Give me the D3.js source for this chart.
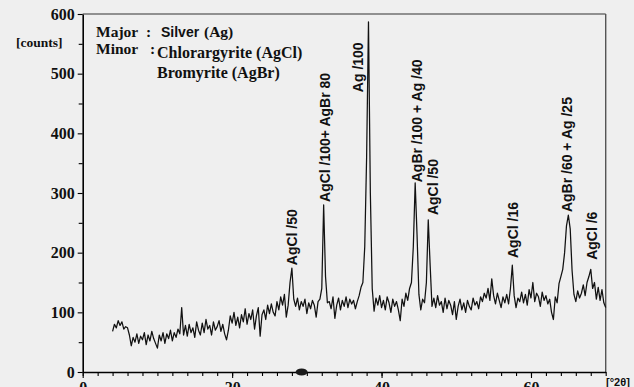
<!DOCTYPE html>
<html>
<head>
<meta charset="utf-8">
<script src="https://cdn.jsdelivr.net/npm/d3@7"></script>
<style>
  body { margin: 0; background: #efefef; }
  svg { display: block; }
</style>
</head>
<body>
<script>
// XRD pattern, 2theta from 4 to 70 deg, step 0.25
const startAngle = 4;
const stepAngle = 0.25;
const counts = [
  68, 80, 74, 86,      // 4
  78, 84, 72, 76,      // 5
  74, 62, 44, 58,      // 6
  50, 64, 48, 60,      // 7
  54, 66, 46, 62,      // 8
  52, 68, 56, 48,      // 9
  40, 62, 52, 66,      // 10
  48, 64, 56, 70,      // 11
  52, 66, 58, 72,      // 12
  64, 108, 62, 78,     // 13
  60, 80, 66, 74,      // 14
  58, 84, 70, 62,      // 15
  82, 66, 88, 72,      // 16
  78, 62, 84, 70,      // 17
  76, 86, 68, 80,      // 18
  64, 54, 70, 94,      // 19
  82, 100, 78, 92,     // 20
  74, 96, 84, 106,     // 21
  80, 98, 88, 104,     // 22
  72, 94, 108, 60,     // 23
  96, 104, 88, 112,    // 24
  98, 114, 100, 94,    // 25
  118, 104, 126, 112,  // 26
  130, 92, 112, 150,   // 27
  174, 122, 110, 124,  // 28
  104, 118, 110, 122,  // 29
  98, 116, 106, 120,   // 30
  112, 92, 118, 122,   // 31
  140, 280, 160, 116,  // 32
  118, 106, 126, 90,   // 33
  112, 124, 104, 120,  // 34
  110, 126, 108, 122,  // 35
  114, 120, 106, 118,  // 36
  128, 142, 150, 210,  // 37
  360, 587, 300, 140,  // 38
  102, 124, 112, 128,  // 39
  108, 120, 104, 126,  // 40
  116, 100, 122, 110,  // 41
  118, 104, 86, 122,   // 42
  110, 132, 120, 140,  // 43
  150, 210, 317, 230,  // 44
  130, 104, 122, 116,  // 45
  150, 255, 180, 110,  // 46
  124, 108, 128, 112,  // 47
  118, 100, 124, 106,  // 48
  120, 112, 96, 118,   // 49
  88, 110, 122, 104,   // 50
  116, 100, 120, 110,  // 51
  104, 124, 112, 118,  // 52
  106, 126, 118, 132,  // 53
  124, 140, 120, 156,  // 54
  128, 114, 132, 120,  // 55
  108, 126, 116, 130,  // 56
  114, 140, 179, 128,  // 57
  108, 124, 118, 134,  // 58
  116, 130, 112, 138,  // 59
  124, 150, 118, 132,  // 60
  126, 110, 134, 120,  // 61
  128, 114, 122, 100,  // 62
  88, 126, 116, 148,   // 63
  160, 172, 200, 245,  // 64
  263, 240, 170, 130,  // 65
  118, 136, 124, 132,  // 66
  146, 128, 150, 160,  // 67
  172, 140, 150, 122,  // 68
  142, 120, 138, 116,  // 69
  108                  // 70
];

const yMajorTicks = [0, 100, 200, 300, 400, 500, 600];
const yMinorTicks = [50, 150, 250, 350, 450, 550];
const xMajorTicks = [0, 20, 40, 60];

// peak annotations: text, 2theta of the label, counts where the label starts
const peakNames = ["AgCl /50", "AgCl /100+ AgBr 80", "Ag /100", "AgBr /100 + Ag /40",
                   "AgCl /50", "AgCl /16", "AgBr /60 + Ag /25", "AgCl /6"];
const peakLabelAngles = [28.0, 32.37, 36.86, 44.75, 46.9, 57.6, 64.84, 68.2];
const peakLabelCounts = [179, 285, 469, 318, 263, 191, 268, 188];

const blobAngle = 29.3; // dark smudge on the axis in the scan

const W = 634, H = 387;
const svg = d3.select("body").append("svg")
    .attr("width", W)
    .attr("height", H);
svg.append("rect").attr("width", W).attr("height", H).attr("fill", "#efefef");

const x = d3.scaleLinear().domain([0, 70]).range([82.7, 605.7]);
const y = d3.scaleLinear().domain([0, 600]).range([372, 14]);

const points = counts.map((c, i) => ({ a: startAngle + i * stepAngle, c: c }));

// frame (top and right)
svg.append("line")
    .attr("x1", x(0)).attr("x2", x(70))
    .attr("y1", y(600)).attr("y2", y(600))
    .attr("stroke", "#333").attr("stroke-width", 1.2);
svg.append("line")
    .attr("x1", x(70)).attr("x2", x(70))
    .attr("y1", y(600)).attr("y2", y(0))
    .attr("stroke", "#555").attr("stroke-width", 1.4);

const line = d3.line()
    .x(d => x(d.a))
    .y(d => y(d.c));

svg.append("path")
    .datum(points)
    .attr("fill", "none")
    .attr("stroke", "#111")
    .attr("stroke-width", 1.25)
    .attr("stroke-linejoin", "round")
    .attr("d", line);

// y axis
svg.append("g")
    .attr("transform", `translate(${x(0)},0)`)
    .call(d3.axisLeft(y).tickValues(yMajorTicks).tickSize(5).tickPadding(3).tickSizeOuter(0));
svg.append("g")
    .attr("transform", `translate(${x(0)},0)`)
    .call(d3.axisLeft(y).tickValues(yMinorTicks).tickSize(4).tickFormat("").tickSizeOuter(0))
    .select(".domain").remove();

// x axis (labels are cut by the bottom edge, as in the scan)
svg.append("g")
    .attr("transform", `translate(0,${y(0)})`)
    .call(d3.axisBottom(x).tickValues(xMajorTicks).tickSize(6).tickPadding(4).tickSizeOuter(0));
svg.append("g")
    .attr("transform", `translate(0,${y(0)})`)
    .call(d3.axisBottom(x).tickValues(d3.range(0, 71, 2)).tickSize(4).tickFormat("").tickSizeOuter(0))
    .select(".domain").remove();

svg.selectAll(".domain").attr("stroke", "#000").attr("stroke-width", 1.6);
svg.selectAll(".tick line").attr("stroke", "#000").attr("stroke-width", 1.1);
svg.selectAll(".tick text")
    .attr("fill", "#111")
    .style("font-family", "'Liberation Serif', 'Times New Roman', serif")
    .style("font-weight", "bold")
    .style("font-size", "16px");

svg.append("ellipse")
    .attr("cx", x(blobAngle)).attr("cy", y(0))
    .attr("rx", 6).attr("ry", 3.5)
    .attr("fill", "#1a1a1a");

// axis titles
svg.append("text")
    .attr("x", 16).attr("y", 47)
    .style("font-family", "'Liberation Serif', serif")
    .style("font-weight", "bold")
    .style("font-size", "13.5px")
    .attr("fill", "#111")
    .text("[counts]");
svg.append("text")
    .attr("x", 606).attr("y", 386)
    .style("font-family", "'Liberation Sans', Arial, sans-serif")
    .style("font-weight", "bold")
    .style("font-size", "11px")
    .attr("fill", "#111")
    .text("[°2θ]");

// phase box
const serif = "'Liberation Serif', 'Times New Roman', serif";
const sans = "'Liberation Sans', Arial, sans-serif";
const box = svg.append("g").attr("fill", "#111").style("font-weight", "bold");
box.append("text").attr("x", 96).attr("y", 37).style("font-family", serif).style("font-size", "15.5px").text("Major");
box.append("text").attr("x", 146).attr("y", 37).style("font-family", serif).style("font-size", "15.5px").text(":");
box.append("text").attr("x", 161).attr("y", 37).style("font-family", sans).style("font-size", "14px").text("Silver");
box.append("text").attr("x", 204).attr("y", 37).style("font-family", serif).style("font-size", "15.5px").text("(Ag)");
box.append("text").attr("x", 96).attr("y", 54).style("font-family", serif).style("font-size", "15.5px").text("Minor");
box.append("text").attr("x", 150).attr("y", 54).style("font-family", serif).style("font-size", "15.5px").text(":");
box.append("text").attr("x", 157).attr("y", 58).style("font-family", serif).style("font-size", "16px").text("Chlorargyrite (AgCl)");
box.append("text").attr("x", 157).attr("y", 78).style("font-family", serif).style("font-size", "16px").text("Bromyrite (AgBr)");

// peak labels
svg.append("g").selectAll("text")
    .data(peakNames)
    .join("text")
    .attr("transform", (d, i) => `translate(${x(peakLabelAngles[i])},${y(peakLabelCounts[i])}) rotate(-90)`)
    .attr("dy", "0.36em")
    .attr("fill", "#111")
    .style("font-family", sans)
    .style("font-weight", "bold")
    .style("font-size", "14px")
    .text(d => d);
</script>
</body>
</html>
